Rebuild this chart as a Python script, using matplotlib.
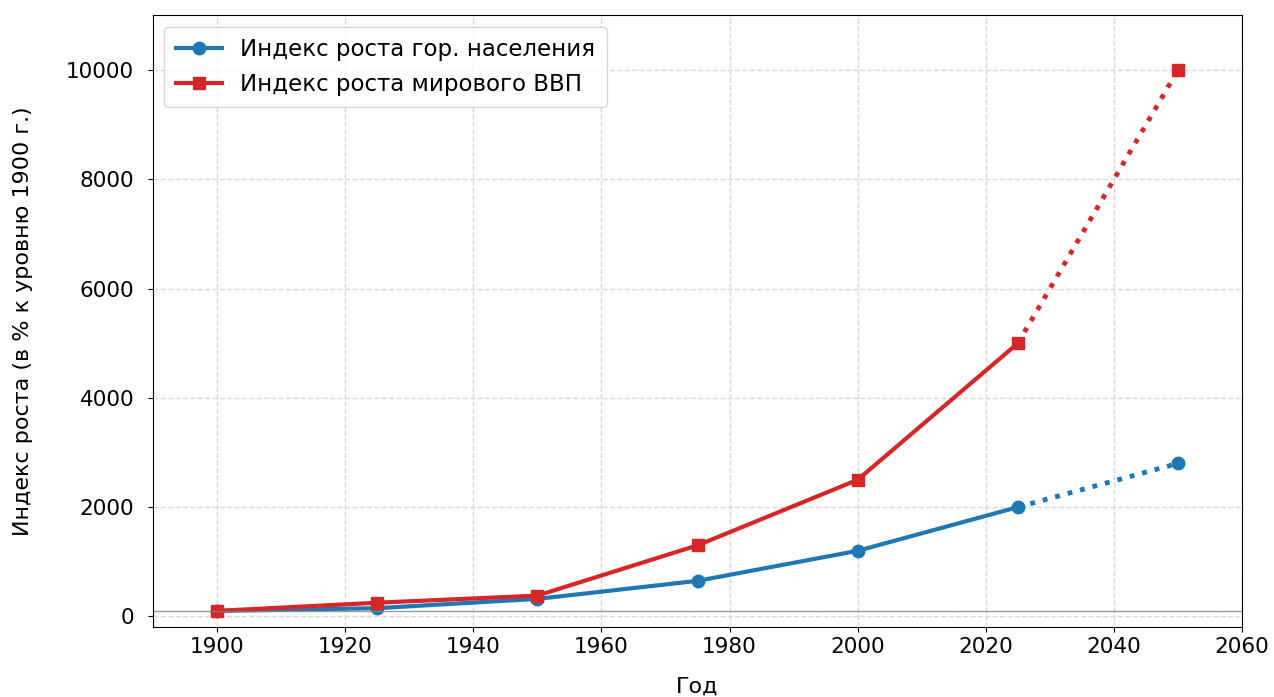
import numpy as np
import matplotlib
matplotlib.use("Agg")
import matplotlib.pyplot as plt

# Данные (индекс, % к уровню 1900 г.)
years = [1900, 1925, 1950, 1975, 2000, 2025]
years_proj = [2025, 2050]
urban_idx = [100, 150, 320, 650, 1200, 2000]
urban_proj = [2000, 2800]
gdp_idx = [100, 250, 380, 1300, 2500, 5000]
gdp_proj = [5000, 10000]

blue = "#1f77b4"
red = "#d62728"

fig, ax = plt.subplots(figsize=(12.74, 6.97), dpi=100)

ax.plot(years, urban_idx, "-o", color=blue, lw=3, ms=9, label="Индекс роста гор. населения")
ax.plot(years, gdp_idx, "-s", color=red, lw=3, ms=9, label="Индекс роста мирового ВВП")
# прогноз пунктиром
ax.plot(years_proj, urban_proj, ":", color=blue, lw=3.5)
ax.plot(years_proj[1:], urban_proj[1:], "o", color=blue, ms=9)
ax.plot(years_proj, gdp_proj, ":", color=red, lw=3.5)
ax.plot(years_proj[1:], gdp_proj[1:], "s", color=red, ms=9)

ax.axhline(100, color="gray", lw=1, alpha=0.8)

ax.set_xlim(1890, 2060)
ax.set_ylim(-200, 11000)
ax.set_xticks(np.arange(1900, 2061, 20))
ax.set_yticks(np.arange(0, 10001, 2000))
ax.grid(True, linestyle="--", color="#d8d8d8", lw=1)
ax.tick_params(labelsize=15.5)
ax.tick_params(axis="y", pad=10)
ax.set_xlabel("Год", fontsize=16, labelpad=14)
ax.set_ylabel("Индекс роста (в % к уровню 1900 г.)", fontsize=16, labelpad=24)
ax.legend(loc="upper left", fontsize=16.5, borderpad=0.5)

plt.subplots_adjust(left=0.12, right=0.975, top=0.978, bottom=0.1)
plt.savefig("out.png")
